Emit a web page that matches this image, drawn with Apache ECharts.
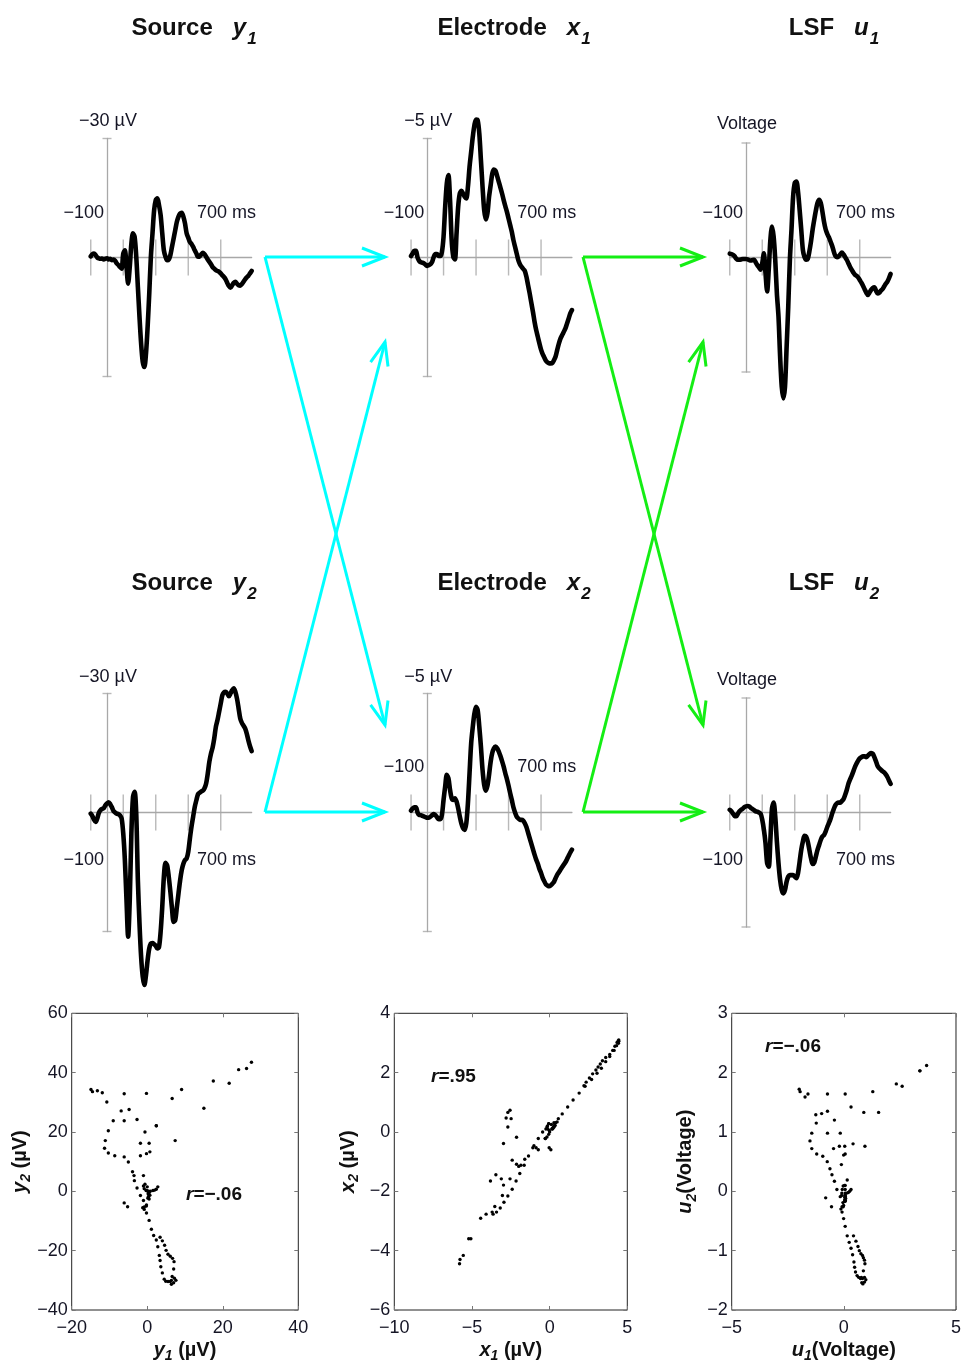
<!DOCTYPE html>
<html><head><meta charset="utf-8">
<script src="https://cdn.jsdelivr.net/npm/echarts@6/dist/echarts.min.js"></script>
<style>html,body{margin:0;padding:0;background:#fff}#c{width:964px;height:1364px}</style>
</head><body><div id="c"></div>
<script>
// ---------------- DATA ----------------
const times = [-100,-90,-80,-70,-60,-50,-40,-30,-20,-10,
  0,10,20,30,40,50,60,70,80,90,
  100,110,120,130,140,150,160,170,180,190,
  200,210,220,230,240,250,260,270,280,290,
  300,310,320,330,340,350,360,370,380,390,
  400,410,420,430,440,450,460,470,480,490,
  500,510,520,530,540,550,560,570,580,590,
  600,610,620,630,640,650,660,670,680,690,
  700,710,720,730,740,750,760,770,780,790,
  800,810,820,830,840,850,860,870,880,890];

const y1 = [-0.3,-0.8,-1.0,-0.6,0,0.2,0.3,0.25,0.5,0.3,
  0.2,0.5,0.3,0.7,0.5,0.8,1.5,1.9,2.4,2.8,
  -1.0,-1.8,2.4,6.6,2.4,-3.5,-6.1,-5.2,-0.2,7.4,
  15.0,21.7,26.3,27.6,24.2,17.5,9.1,-0.2,-6.1,-11.9,
  -14.5,-14.9,-13.2,-10.7,-6.1,-1.8,-0.2,0.7,0.5,-0.6,
  -2.7,-4.8,-6.9,-9.0,-10.3,-11.1,-11.3,-10.3,-8.6,-6.1,
  -5.0,-3.9,-3.4,-2.7,-1.8,-1.0,-0.2,-0.3,-0.8,-1.2,
  -0.8,-0.2,0.5,1.1,1.7,2.4,2.8,3.2,3.4,3.6,
  4.0,4.5,4.9,5.5,6.4,7.2,7.6,7.0,6.4,6.1,
  6.6,7.0,7.1,6.7,6.1,5.5,5.0,4.6,4.0,3.4];

const y2 = [0.3,0.9,1.8,2.4,1.5,0.1,-0.6,-0.9,-1.1,-1.8,
  -2.3,-2.6,-2.1,-1.3,-0.4,0,0.3,0.4,0.7,1.5,
  5.3,12.0,22.1,31.3,22.1,5.3,-3.9,-5.2,0.3,17.1,
  28.0,36.4,41.4,43.5,41.0,37.2,34.3,33.0,32.9,33.2,
  33.6,34.3,33.9,30.1,23.8,16.2,12.7,13.3,16.2,20.0,
  24.2,27.6,27.1,23.8,20.4,17.1,14.5,12.9,12.0,11.6,
  9.9,6.6,3.6,1.1,-1.4,-3.1,-4.6,-5.0,-5.3,-5.5,
  -6.1,-7.3,-9.8,-12.8,-14.9,-16.4,-18.7,-21.6,-23.3,-25.4,
  -27.5,-29.6,-30.3,-30.4,-30.0,-29.3,-30.0,-30.8,-31.3,-30.4,
  -28.7,-26.2,-23.7,-22.6,-21.9,-21.2,-19.9,-18.2,-16.7,-15.5];

const x1 = [-0.06,-0.17,-0.28,-0.28,0,0.14,0.2,0.22,0.25,0.31,
  0.35,0.32,0.28,0.18,-0.03,-0.14,-0.14,-0.06,-0.06,-0.24,
  -0.87,-2.13,-3.11,-3.46,-2.41,-0.73,-0.03,0.08,-1.01,-2.13,
  -2.69,-2.8,-2.69,-2.55,-2.48,-2.97,-3.81,-4.44,-5.07,-5.56,
  -5.8,-5.77,-5.21,-4.09,-2.97,-1.99,-1.6,-1.85,-2.55,-3.04,
  -3.53,-3.7,-3.64,-3.42,-3.18,-2.94,-2.69,-2.41,-2.16,-1.92,
  -1.64,-1.36,-1.08,-0.73,-0.45,-0.17,0.11,0.28,0.39,0.48,
  0.56,0.81,1.16,1.51,1.9,2.28,2.7,3.05,3.33,3.61,
  3.87,4.06,4.2,4.34,4.41,4.45,4.45,4.43,4.31,4.15,
  3.87,3.61,3.4,3.26,3.12,2.98,2.77,2.56,2.35,2.21];

const x2 = [-0.08,-0.17,-0.22,-0.22,0,0.1,0.11,0.14,0.17,0.2,
  0.22,0.22,0.17,0.11,0.06,0.11,0.2,0.28,0.28,0.1,
  -0.53,-1.09,-1.58,-1.44,-0.95,-0.6,-0.53,-0.6,-0.46,-0.18,
  0.17,0.47,0.66,0.73,0.45,-0.39,-1.65,-2.91,-3.6,-4.16,
  -4.44,-4.3,-3.6,-2.77,-1.79,-1.16,-0.92,-1.12,-1.58,-2.14,
  -2.51,-2.7,-2.77,-2.7,-2.56,-2.37,-2.16,-1.93,-1.65,-1.4,
  -1.12,-0.81,-0.53,-0.22,0,0.17,0.25,0.31,0.31,0.34,
  0.45,0.61,0.84,1.08,1.31,1.54,1.77,1.98,2.15,2.37,
  2.54,2.75,2.89,3.02,3.07,3.1,3.06,2.99,2.91,2.75,
  2.61,2.51,2.4,2.29,2.19,2.09,1.96,1.82,1.68,1.56];

const u1 = [-0.1,-0.09,-0.07,-0.03,0.03,0.06,0.06,0.05,0.04,0.04,
  0.04,0.05,0.07,0.08,0.07,0.06,0.13,0.2,0.26,0.32,
  0.15,-0.11,0.41,0.89,0.32,-0.46,-0.81,-0.55,0.06,0.94,
  1.55,2.6,3.39,3.69,3.39,2.34,1.29,0.06,-0.73,-1.6,
  -1.95,-1.99,-1.73,-1.25,-0.73,-0.2,-0.01,0.06,0.04,-0.16,
  -0.42,-0.73,-0.99,-1.23,-1.43,-1.51,-1.43,-1.21,-0.94,-0.74,
  -0.62,-0.53,-0.42,-0.31,-0.16,-0.04,-0.01,-0.03,-0.08,-0.13,
  -0.08,-0.01,0.06,0.15,0.24,0.32,0.39,0.45,0.48,0.52,
  0.59,0.66,0.74,0.83,0.92,0.98,0.92,0.85,0.8,0.78,
  0.87,0.94,0.92,0.87,0.83,0.76,0.69,0.63,0.54,0.43];

const u2 = [-0.07,-0.03,0.03,0.09,0.1,0.03,-0.03,-0.07,-0.1,-0.14,
  -0.16,-0.17,-0.16,-0.12,-0.09,-0.06,-0.03,-0.02,0,0.03,
  0.19,0.45,0.8,1.33,1.42,0.72,-0.11,-0.26,0.1,0.76,
  1.33,1.77,2.03,2.12,2.03,1.81,1.68,1.64,1.64,1.64,
  1.68,1.72,1.59,1.29,0.98,0.76,0.61,0.63,0.76,0.98,
  1.2,1.35,1.31,1.15,0.98,0.85,0.72,0.63,0.59,0.5,
  0.38,0.28,0.17,0.03,-0.09,-0.19,-0.24,-0.26,-0.26,-0.3,
  -0.35,-0.46,-0.59,-0.75,-0.86,-0.96,-1.07,-1.19,-1.28,-1.36,
  -1.42,-1.45,-1.47,-1.47,-1.45,-1.49,-1.53,-1.56,-1.54,-1.45,
  -1.34,-1.22,-1.16,-1.12,-1.08,-1.05,-1.0,-0.93,-0.84,-0.75];

const timeTicks = [-100, 100, 300, 500, 700];
const timeLabels = ['−100', '700 ms'];
const yLimits = {y: 30, x: 5, u: 3};
const unitLabels = {y: '−30 µV', x: '−5 µV', u: 'Voltage'};
const titles = [
  ['Source', 'y', '1'], ['Electrode', 'x', '1'], ['LSF', 'u', '1'],
  ['Source', 'y', '2'], ['Electrode', 'x', '2'], ['LSF', 'u', '2']
];
const rValues = ['−.06', '.95', '−.06'];
const scatterX = {min: [-20, -10, -5], max: [40, 5, 5], step: [20, 5, 5]};
const scatterY = {min: [-40, -6, -2], max: [60, 4, 3], step: [20, 2, 1]};
const scatterNames = [['y', '1', ' (µV)'], ['x', '1', ' (µV)'], ['u', '1', '(Voltage)']];
const scatterNamesY = [['y', '2', ' (µV)'], ['x', '2', ' (µV)'], ['u', '2', '(Voltage)']];

// ---------------- LAYOUT ----------------
const FF = '"Liberation Sans", Arial, Helvetica, sans-serif';
const TXT = '#151525';
const AX = '#a8a8a8';
const colAxisX = [107, 427.3, 746];
const rowZero = [257.5, 812.5];
const PX_PER_MS = 0.1625;
const halfH = {y: 119, x: 119, u: 114.5};

const panels = [
  {kind: 'y', data: y1, col: 0, row: 0, labPos: -44.5, topOff: -136},
  {kind: 'x', data: x1, col: 1, row: 0, labPos: -44.5, topOff: -136},
  {kind: 'u', data: u1, col: 2, row: 0, labPos: -44.5, topOff: -133.5},
  {kind: 'y', data: y2, col: 0, row: 1, labPos: 47.5, topOff: -135.5},
  {kind: 'x', data: x2, col: 1, row: 1, labPos: -45.5, topOff: -135.5},
  {kind: 'u', data: u2, col: 2, row: 1, labPos: 47.5, topOff: -132.5}
];

const scatterPairs = [[y1, y2], [x1, x2], [u1, u2]];
const scatterBox = [
  {left: 71.7, width: 226.6}, {left: 394.3, width: 233}, {left: 731.7, width: 226.6}
];
const scatterTop = 1013.3, scatterH = 296.7;
const rPos = [[186, 1195], [431, 1077], [765, 1047]];

const grids = [], xAxes = [], yAxes = [], series = [], graphics = [];
const minus = v => String(v).replace('-', '−');

// wave panels
panels.forEach((p, i) => {
  const ax = colAxisX[p.col], z = rowZero[p.row], h = halfH[p.kind];
  grids.push({left: ax - 100 * PX_PER_MS, width: 990 * PX_PER_MS, top: z - h, height: 2 * h});
  xAxes.push({gridIndex: i, type: 'value', min: -100, max: 890,
    axisLine: {show: true, onZero: true, lineStyle: {color: AX, width: 1.3}},
    axisTick: {show: false}, axisLabel: {show: false}, splitLine: {show: false}});
  const L = yLimits[p.kind];
  yAxes.push({gridIndex: i, type: 'value', inverse: true, min: -L, max: L, interval: L,
    axisLine: {show: true, onZero: true, lineStyle: {color: AX, width: 1.3}},
    axisTick: {show: false},
    axisLabel: {show: false}, splitLine: {show: false}});
  // time ticks crossing the zero line
  series.push({type: 'scatter', xAxisIndex: i, yAxisIndex: i, silent: true, z: 1,
    symbol: 'rect', symbolSize: [1.4, 36], itemStyle: {color: AX},
    data: timeTicks.map(t => [t, 0])});
  // end caps of the vertical axis
  series.push({type: 'scatter', xAxisIndex: i, yAxisIndex: i, silent: true, z: 1, clip: false,
    symbol: 'rect', symbolSize: [9, 1.4], itemStyle: {color: AX},
    data: [[0, -L], [0, L]]});
  series.push({type: 'line', xAxisIndex: i, yAxisIndex: i, showSymbol: false, smooth: 0.3, z: 3, clip: false,
    lineStyle: {color: '#000', width: 4.6, join: 'round', cap: 'round'},
    data: times.map((t, k) => [t, p.data[k]])});
  // labels
  graphics.push({type: 'text', x: ax + 1, y: z + p.topOff, style: {text: unitLabels[p.kind],
    font: '18px ' + FF, fill: TXT, align: 'center', verticalAlign: 'middle', textAlign: 'center', textVerticalAlign: 'middle'}});
  graphics.push({type: 'text', x: ax - 3, y: z + p.labPos, style: {text: timeLabels[0],
    font: '18px ' + FF, fill: TXT, align: 'right', verticalAlign: 'middle', textAlign: 'right', textVerticalAlign: 'middle'}});
  graphics.push({type: 'text', x: ax + 90, y: z + p.labPos, style: {text: timeLabels[1],
    font: '18px ' + FF, fill: TXT, align: 'left', verticalAlign: 'middle', textAlign: 'left', textVerticalAlign: 'middle'}});
});

// titles
const titleCenters = [194, 514, 834];
const titleY = [28, 583];
titles.forEach((t, i) => {
  const col = i % 3, row = Math.floor(i / 3);
  graphics.push({type: 'text', x: titleCenters[col], y: titleY[row], style: {
    text: '{b|' + t[0] + '}{i|' + t[1] + '}{s|' + t[2] + '}',
    align: 'center', verticalAlign: 'middle', textAlign: 'center', textVerticalAlign: 'middle',
    rich: {
      b: {fontSize: 24, fontWeight: 'bold', fontFamily: FF, fill: '#111', color: '#111'},
      i: {fontSize: 24, fontWeight: 'bold', fontStyle: 'italic', fontFamily: FF, fill: '#111', color: '#111', padding: [0, 0, 0, 20]},
      s: {fontSize: 17, fontWeight: 'bold', fontStyle: 'italic', fontFamily: FF, fill: '#111', color: '#111', padding: [22, 0, 0, 1]}
    }}});
});

// arrows
const arrowDefs = [
  {color: '#00ffff', from: [265, 257], to: [385, 257]},
  {color: '#00ffff', from: [265, 257], to: [385, 725]},
  {color: '#00ffff', from: [265, 812], to: [385, 812]},
  {color: '#00ffff', from: [265, 812], to: [385, 342]},
  {color: '#14ee14', from: [583, 257], to: [703, 257]},
  {color: '#14ee14', from: [583, 257], to: [703, 725]},
  {color: '#14ee14', from: [583, 812], to: [703, 812]},
  {color: '#14ee14', from: [583, 812], to: [703, 342]}
];
arrowDefs.forEach(a => {
  const [xa, ya] = a.from, [xb, yb] = a.to;
  const L = Math.hypot(xb - xa, yb - ya), ux = (xb - xa) / L, uy = (yb - ya) / L;
  const nx = -uy, ny = ux, hl = 23, hw = 9;
  graphics.push({type: 'polyline', shape: {points: [[xa, ya], [xb, yb]]},
    style: {stroke: a.color, lineWidth: 3, fill: null}});
  graphics.push({type: 'polyline', shape: {points: [
      [xb - hl * ux + hw * nx, yb - hl * uy + hw * ny], [xb, yb], [xb - hl * ux - hw * nx, yb - hl * uy - hw * ny]]},
    style: {stroke: a.color, lineWidth: 3, fill: null, lineJoin: 'miter'}});
});

// scatter panels
const nameRich = {
  i: {fontSize: 20, fontWeight: 'bold', fontStyle: 'italic', fontFamily: FF, color: '#111'},
  s: {fontSize: 14, fontWeight: 'bold', fontStyle: 'italic', fontFamily: FF, color: '#111', padding: [12, 0, 0, 0]},
  n: {fontSize: 20, fontWeight: 'bold', fontFamily: FF, color: '#111'}
};
scatterPairs.forEach((pair, j) => {
  const gi = grids.length;
  grids.push({left: scatterBox[j].left, width: scatterBox[j].width, top: scatterTop, height: scatterH,
    show: true, borderColor: '#222', borderWidth: 1, backgroundColor: 'transparent'});
  const xi = xAxes.length, yi = yAxes.length;
  const common = {gridIndex: gi, type: 'value', splitLine: {show: false}};
  const nm = scatterNames[j], nmy = scatterNamesY[j];
  xAxes.push(Object.assign({}, common, {position: 'bottom', min: scatterX.min[j], max: scatterX.max[j], interval: scatterX.step[j],
    axisLine: {show: false, onZero: false}, axisTick: {show: true, inside: true, length: 4, lineStyle: {color: '#777'}},
    axisLabel: {show: true, margin: 9, fontSize: 18, fontFamily: FF, color: TXT, formatter: minus},
    name: '{i|' + nm[0] + '}{s|' + nm[1] + '}{n|' + nm[2] + '}', nameLocation: 'middle', nameGap: 27,
    nameTextStyle: {rich: nameRich}}));
  xAxes.push(Object.assign({}, common, {position: 'top', min: scatterX.min[j], max: scatterX.max[j], interval: scatterX.step[j],
    axisLine: {show: false, onZero: false}, axisTick: {show: true, inside: true, length: 4, lineStyle: {color: '#777'}},
    axisLabel: {show: false}}));
  yAxes.push(Object.assign({}, common, {position: 'left', min: scatterY.min[j], max: scatterY.max[j], interval: scatterY.step[j],
    axisLine: {show: false, onZero: false}, axisTick: {show: true, inside: true, length: 4, lineStyle: {color: '#777'}},
    axisLabel: {show: true, margin: 4, fontSize: 18, fontFamily: FF, color: TXT, formatter: minus},
    name: '{i|' + nmy[0] + '}{s|' + nmy[1] + '}{n|' + nmy[2] + '}', nameLocation: 'middle', nameGap: 33,
    nameTextStyle: {rich: nameRich}}));
  yAxes.push(Object.assign({}, common, {position: 'right', min: scatterY.min[j], max: scatterY.max[j], interval: scatterY.step[j],
    axisLine: {show: false, onZero: false}, axisTick: {show: true, inside: true, length: 4, lineStyle: {color: '#777'}},
    axisLabel: {show: false}}));
  series.push({type: 'scatter', xAxisIndex: xi, yAxisIndex: yi, symbolSize: 3.4, silent: true,
    itemStyle: {color: '#000', opacity: 1}, data: pair[0].map((v, k) => [v, pair[1][k]])});
  graphics.push({type: 'text', x: rPos[j][0], y: rPos[j][1], style: {
    text: '{i|r}{n|=' + rValues[j] + '}', align: 'left', verticalAlign: 'middle', textAlign: 'left', textVerticalAlign: 'middle',
    rich: {
      i: {fontSize: 19, fontWeight: 'bold', fontStyle: 'italic', fontFamily: FF, fill: '#111', color: '#111'},
      n: {fontSize: 19, fontWeight: 'bold', fontFamily: FF, fill: '#111', color: '#111'}
    }}});
});

const chart = echarts.init(document.getElementById('c'), null, {renderer: 'canvas'});
chart.setOption({
  backgroundColor: '#fff', animation: false,
  grid: grids, xAxis: xAxes, yAxis: yAxes, series: series, graphic: graphics
});
</script></body></html>
